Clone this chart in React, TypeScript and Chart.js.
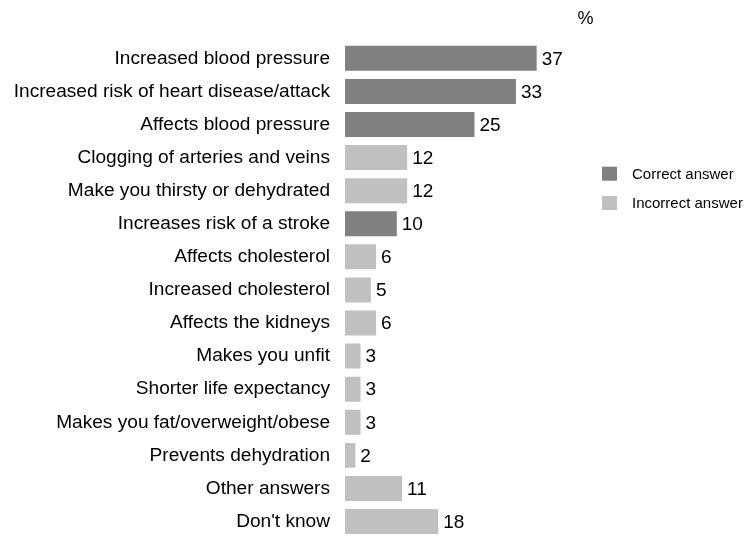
import React, { useEffect, useRef } from "react";
import { Chart, registerables } from "chart.js";

Chart.register(...registerables);

const categories = [
  "Increased blood pressure",
  "Increased risk of heart disease/attack",
  "Affects blood pressure",
  "Clogging of arteries and veins",
  "Make you thirsty or dehydrated",
  "Increases risk of a stroke",
  "Affects cholesterol",
  "Increased cholesterol",
  "Affects the kidneys",
  "Makes you unfit",
  "Shorter life expectancy",
  "Makes you fat/overweight/obese",
  "Prevents dehydration",
  "Other answers",
  "Don't know",
];
const values = [37, 33, 25, 12, 12, 10, 6, 5, 6, 3, 3, 3, 2, 11, 18];
const isCorrect = [true, true, true, false, false, true, false, false, false, false, false, false, false, false, false];
const legendLabels = ["Correct answer", "Incorrect answer"];
const unitLabel = "%";

const DARK = "#808080";
const LIGHT = "#c0c0c0";
const FONT = "Arial, 'Liberation Sans', sans-serif";

const overlayPlugin = {
  id: "overlay",
  afterDatasetsDraw(chart: any) {
    const ctx = chart.ctx;
    const meta = chart.getDatasetMeta(0);
    ctx.save();
    ctx.fillStyle = "#000";
    ctx.font = `19px ${FONT}`;
    ctx.textAlign = "left";
    ctx.textBaseline = "middle";
    meta.data.forEach((bar: any, i: number) => {
      ctx.fillText(String(values[i]), bar.x + 5, bar.y + 1);
    });
    // unit
    ctx.font = `18px ${FONT}`;
    ctx.textAlign = "center";
    ctx.fillText(unitLabel, 585.5, 19);
    // legend
    const colors = [DARK, LIGHT];
    const ys = [173.7, 203];
    ctx.textAlign = "left";
    ctx.font = `15px ${FONT}`;
    legendLabels.forEach((lab, i) => {
      ctx.fillStyle = colors[i];
      ctx.fillRect(602, ys[i] - 7, 15, 14);
      ctx.fillStyle = "#000";
      ctx.fillText(lab, 632, ys[i] + 1);
    });
    ctx.restore();
  },
};

export default function App() {
  const ref = useRef<HTMLCanvasElement | null>(null);
  useEffect(() => {
    document.body.style.overflow = "hidden";
    const chart = new Chart(ref.current!, {
      type: "bar",
      data: {
        labels: categories,
        datasets: [
          {
            data: values,
            backgroundColor: isCorrect.map((c) => (c ? DARK : LIGHT)),
            barPercentage: 0.755,
            categoryPercentage: 1,
          },
        ],
      },
      options: {
        indexAxis: "y",
        responsive: false,
        animation: false,
        layout: { padding: { top: 41.75, bottom: 21.9, left: 0, right: 148 } },
        plugins: { legend: { display: false }, tooltip: { enabled: false } },
        scales: {
          x: { display: false, min: 0, max: 50 },
          y: {
            grid: { display: false, drawTicks: false },
            border: { display: false },
            ticks: {
              color: "#000",
              padding: 15,
              font: { family: FONT, size: 19.1 },
            },
            afterFit: (scale: any) => {
              scale.width = 345;
              scale.paddingTop = 0;
              scale.paddingBottom = 0;
            },
          },
        },
      },
      plugins: [overlayPlugin],
    });
    return () => chart.destroy();
  }, []);
  return (
    <div style={{ position: "fixed", left: 0, top: 0, width: 752, height: 560, background: "#fff" }}>
      <canvas ref={ref} width={752} height={560} style={{ width: 752, height: 560 }} />
    </div>
  );
}
